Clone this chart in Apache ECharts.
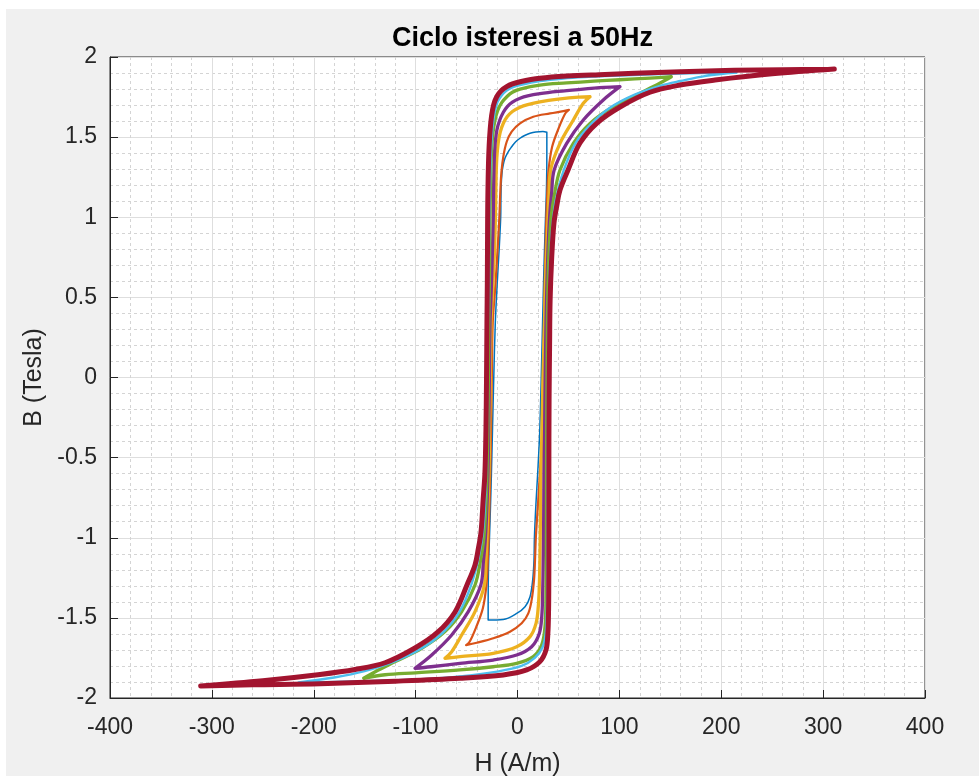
<!DOCTYPE html>
<html>
<head>
<meta charset="utf-8">
<title>Ciclo isteresi a 50Hz</title>
<script src="https://cdn.jsdelivr.net/npm/echarts@6/dist/echarts.min.js"></script>
<style>
  html, body { margin: 0; padding: 0; background: #ffffff; }
  #frame { position: absolute; left: 6px; top: 9px; width: 973px; height: 767px; background: #f0f0f0; }
  #chart { position: absolute; left: 0; top: 0; width: 979px; height: 776px; }
</style>
</head>
<body>
<div id="frame"></div>
<div id="chart"></div>
<script>
// Hysteresis loops [H (A/m), B (T)] at 50 Hz, one closed loop per excitation level.
// Each list runs down the descending branch, then back up the ascending branch.
const ciclo30 = [
  [28.8,1.53],[25,1.535],[18,1.532],[12.3,1.524],[7,1.51],[2.5,1.493],[-2,1.47],[-5.7,1.44],[-9,1.41],
  [-12.3,1.368],[-14.2,1.32],[-15.3,1.27],[-16,1.2],[-16.3,1.1],[-16.5,1.0],
  [-18,0.8],[-19.8,0.6],[-21.8,0.34],[-23.3,0],[-24.6,-0.34],[-25.6,-0.6],[-26.5,-0.8],[-27.5,-1.0],
  [-28.5,-1.2],[-28.8,-1.4],[-28.8,-1.514],
  [-14,-1.51],[-0.8,-1.472],[7.4,-1.43],[12.3,-1.368],[14.9,-1.264],[16.2,-1.139],[16.6,-1.0],
  [18,-0.8],[19.8,-0.6],[21.8,-0.34],[23.3,0],[24.6,0.34],[25.6,0.6],[26.5,0.8],[27.5,1.0],
  [28.5,1.2],[28.8,1.4],[28.8,1.53]
];

const ciclo50 = [
  [50.5,1.67],[45,1.662],[32,1.648],[15.5,1.627],[2.5,1.586],[-5.7,1.534],[-10.6,1.471],[-13.9,1.38],
  [-15.8,1.28],[-16.8,1.17],[-17.5,1.05],[-18.2,0.95],
  [-20,0.75],[-22,0.55],[-24.3,0.34],[-25.2,0],[-26,-0.34],[-26.7,-0.6],[-27.5,-0.8],[-28.3,-1.0],
  [-29.2,-1.15],[-30.5,-1.295],[-34,-1.44],[-41,-1.565],[-47,-1.649],[-50.5,-1.67],
  [-40,-1.655],[-23.8,-1.627],[-7.4,-1.586],[4.1,-1.534],[10.6,-1.472],[13.9,-1.388],[16.2,-1.264],
  [17.2,-1.139],[18,-1.0],
  [20,-0.8],[22,-0.6],[24.3,-0.34],[25.2,0],[26,0.34],[26.7,0.6],[27.5,0.8],[28.3,1.0],
  [29.2,1.15],[30.5,1.295],[34,1.44],[41,1.565],[47,1.649],[50.5,1.67]
];

const ciclo70 = [
  [71.2,1.752],[60,1.75],[40,1.737],[22,1.72],[10,1.703],[2.5,1.687],[-5,1.66],[-10,1.628],[-14,1.585],
  [-17,1.53],[-19,1.46],[-20.3,1.37],[-21,1.25],[-21.4,1.1],[-21.7,1.0],
  [-22.5,0.8],[-24,0.6],[-25.2,0.45],[-26,0.34],[-26.7,0],[-27.4,-0.34],[-28,-0.6],[-29,-0.8],[-30,-1.0],
  [-31,-1.15],[-32.5,-1.295],[-41.7,-1.461],[-54.8,-1.607],[-64.6,-1.711],[-71.2,-1.752],
  [-56.5,-1.742],[-23.8,-1.721],[-0.8,-1.68],[12.3,-1.617],[18.2,-1.534],[20.4,-1.43],[21.4,-1.305],
  [22,-1.139],[22.3,-1.0],
  [23,-0.6],[24,-0.34],[25,0],[26.5,0.34],[27.5,0.6],[28.7,0.8],[30,1.0],
  [31,1.15],[32.5,1.295],[41.7,1.461],[54.8,1.607],[64.6,1.711],[71.2,1.752]
];

const ciclo100 = [
  [100.6,1.815],[85,1.81],[60,1.797],[40,1.785],[22,1.771],[10,1.757],[2.5,1.742],[-5,1.718],[-10,1.69],
  [-13.9,1.655],[-17.5,1.605],[-20.2,1.545],[-21.8,1.47],[-22.8,1.36],[-23.4,1.2],[-23.8,1.0],
  [-25,0.7],[-26.3,0.45],[-27,0.34],[-27.6,0],[-28.3,-0.34],[-29,-0.6],[-30,-0.8],[-31.5,-1.0],
  [-33.5,-1.15],[-36,-1.295],[-48.3,-1.461],[-64.6,-1.607],[-84.2,-1.732],[-100.6,-1.815],
  [-85,-1.805],[-56.5,-1.784],[-23.8,-1.763],[-0.8,-1.732],[13.9,-1.68],[21.4,-1.597],[23.8,-1.493],
  [24.7,-1.347],[25.3,-1.139],[25.6,-1.0],
  [26,-0.6],[26.6,-0.34],[27.2,0],[28,0.34],[29,0.6],[30,0.8],[31.5,1.0],
  [33.5,1.15],[36,1.295],[48.3,1.461],[64.6,1.607],[84.2,1.732],[100.6,1.815]
];

const ciclo150 = [
  [151,1.877],[130,1.868],[100,1.858],[75,1.849],[48.3,1.838],[22,1.825],[2.5,1.8],[-5,1.78],[-10,1.755],
  [-15.5,1.715],[-19.5,1.665],[-22.3,1.6],[-24.2,1.52],[-25.4,1.42],[-26.1,1.3],[-26.6,1.15],[-27,1.0],
  [-27.6,0.6],[-28.2,0.34],[-28.6,0],[-29.2,-0.34],[-30,-0.6],[-31,-0.8],[-33,-1.0],
  [-36.5,-1.15],[-41.7,-1.295],[-54.8,-1.461],[-71.2,-1.586],[-94,-1.69],[-120,-1.773],[-139.6,-1.836],
  [-151,-1.877],
  [-130,-1.855],[-100,-1.843],[-56.5,-1.825],[-23.8,-1.805],[-0.8,-1.784],[15.5,-1.742],[23.8,-1.669],
  [27,-1.555],[28,-1.35],[28.3,-1.15],
  [28.5,-0.6],[28.7,-0.3],[29,0],[29.3,0.34],[30,0.6],[31,0.8],[33,1.0],
  [36.5,1.15],[41.7,1.295],[54.8,1.461],[71.2,1.586],[94,1.69],[120,1.773],[139.6,1.836],[151,1.877]
];

const ciclo215 = [
  [215,1.903],[180,1.9],[140,1.893],[100,1.885],[70,1.876],[45,1.866],[22,1.85],[2.5,1.825],[-5,1.81],
  [-10.6,1.79],[-15.5,1.76],[-19.5,1.72],[-22.3,1.66],[-24.2,1.58],[-25.5,1.48],[-26.4,1.36],
  [-27.2,1.17],[-27.7,1.0],
  [-28.3,0.6],[-29,0.34],[-29.5,0],[-30,-0.34],[-30.8,-0.6],[-32,-0.8],[-34,-0.97],
  [-38,-1.12],[-45.5,-1.295],[-57,-1.463],[-73,-1.59],[-94,-1.69],[-120,-1.77],[-150,-1.832],
  [-180,-1.872],[-215,-1.903],
  [-180,-1.9],[-140,-1.893],[-100,-1.885],[-56.5,-1.865],[-20,-1.835],[4,-1.8],[17,-1.75],[24.5,-1.685],
  [27.8,-1.59],[28.8,-1.45],[29.2,-1.3],[29.4,-1.1],
  [29.5,-0.6],[29.8,-0.3],[30,0],[30.4,0.34],[31.3,0.6],[32.5,0.8],[34.5,0.97],
  [38,1.12],[45.5,1.295],[57,1.463],[72,1.58],[90,1.68],[115,1.765],[140,1.82],[160,1.85],
  [185,1.882],[215,1.903]
];

const ciclo310 = [
  [311,1.925],[260,1.921],[212.8,1.917],[160,1.908],[114.6,1.898],[80,1.89],[48.3,1.881],[22,1.867],
  [2.5,1.846],[-5,1.832],[-10.6,1.815],[-16,1.79],[-20.4,1.752],[-23.5,1.7],[-25.5,1.63],[-26.8,1.55],
  [-27.8,1.45],[-28.5,1.33],[-29,1.17],[-29.3,1.0],
  [-29.6,0.6],[-30,0.34],[-30.4,0],[-31,-0.34],[-32,-0.6],[-33.6,-0.752],[-35.8,-0.964],
  [-38.5,-1.07],[-41.7,-1.17],[-49.6,-1.295],[-61.3,-1.463],[-78,-1.588],[-100.6,-1.688],[-130,-1.78],
  [-159.5,-1.822],[-193.8,-1.853],[-250,-1.892],[-311,-1.925],
  [-260,-1.918],[-193.8,-1.911],[-120,-1.895],[-56.5,-1.877],[-14,-1.856],[9,-1.825],[22,-1.773],
  [28,-1.7],[29.8,-1.597],[30.5,-1.45],[30.7,-1.3],[30.8,-1.1],
  [30.8,-0.6],[31,-0.14],[31.5,0.2],[32,0.48],[33.6,0.752],[35.8,0.964],
  [38.5,1.07],[41.7,1.17],[49.6,1.295],[61.3,1.463],[78,1.588],[100.6,1.688],[130,1.78],[159.5,1.825],
  [193.8,1.856],[250,1.895],[311,1.925]
];

// Axis ranges and tick spacing
const hTicks = { min: -400, max: 400, step: 100 };
const bTicks = { min: -2, max: 2, step: 0.5 };

const titolo = 'Ciclo isteresi a 50Hz';
const etichettaH = 'H (A/m)';
const etichettaB = 'B (Tesla)';

// Drawing order follows the default MATLAB colour cycle
const cicli = [ciclo30, ciclo50, ciclo70, ciclo100, ciclo150, ciclo215, ciclo310];
const colori = ['#0072BD', '#D95319', '#EDB120', '#7E2F8E', '#77AC30', '#4DBEEE', '#A2142F'];
const spessori = [1.5, 2.2, 3.3, 3.3, 3.3, 2.4, 5];

const FONT = '"Liberation Sans", Arial, Helvetica, sans-serif';
const INK = '#262626';

function mainAxis(pos, range, name, gap) {
  return {
    type: 'value', position: pos,
    min: range.min, max: range.max, interval: range.step,
    name: name, nameLocation: 'middle', nameGap: gap,
    nameTextStyle: { fontFamily: FONT, fontSize: 25, color: INK },
    axisLine: { show: true, onZero: false, lineStyle: { color: INK, width: 1 } },
    axisTick: { show: true, inside: true, length: 8, lineStyle: { color: INK, width: 1 } },
    axisLabel: { show: true, fontFamily: FONT, fontSize: 23, color: INK, margin: pos === 'left' ? 13 : 18 },
    splitLine: { show: true, lineStyle: { color: '#dedede', width: 1 } },
    minorTick: { show: false, splitNumber: 5 },
    minorSplitLine: { show: true, lineStyle: { color: '#d4d4d4', width: 1, type: [3, 3] } },
    z: 1
  };
}

function mirrorAxis(pos, range) {
  return {
    type: 'value', position: pos,
    min: range.min, max: range.max, interval: range.step,
    axisLine: { show: false, onZero: false },
    axisTick: { show: true, inside: true, length: 8, lineStyle: { color: INK, width: 1 } },
    axisLabel: { show: false },
    splitLine: { show: false }
  };
}

const chart = echarts.init(document.getElementById('chart'), null, { renderer: 'canvas' });

chart.setOption({
  backgroundColor: 'transparent',
  animation: false,
  title: {
    text: titolo,
    left: 517.5,
    top: 20,
    textAlign: 'center',
    textStyle: { fontFamily: FONT, fontSize: 27, fontWeight: 'bold', color: '#000000' }
  },
  grid: {
    left: 110, right: 54, top: 57, bottom: 78,
    containLabel: false,
    outerBoundsMode: 'none',
    show: true, backgroundColor: '#ffffff', borderWidth: 1, borderColor: INK
  },
  xAxis: [
    mainAxis('bottom', hTicks, etichettaH, 54),
    mirrorAxis('top', hTicks)
  ],
  yAxis: [
    mainAxis('left', bTicks, etichettaB, 60),
    mirrorAxis('right', bTicks)
  ],
  series: cicli.map((d, i) => ({
    type: 'line',
    data: d,
    xAxisIndex: 0,
    yAxisIndex: 0,
    showSymbol: false,
    symbol: 'none',
    smooth: 0.35,
    clip: true,
    lineStyle: { color: colori[i], width: spessori[i], join: 'round', cap: 'round' },
    z: 2 + i
  }))
});
</script>
</body>
</html>
